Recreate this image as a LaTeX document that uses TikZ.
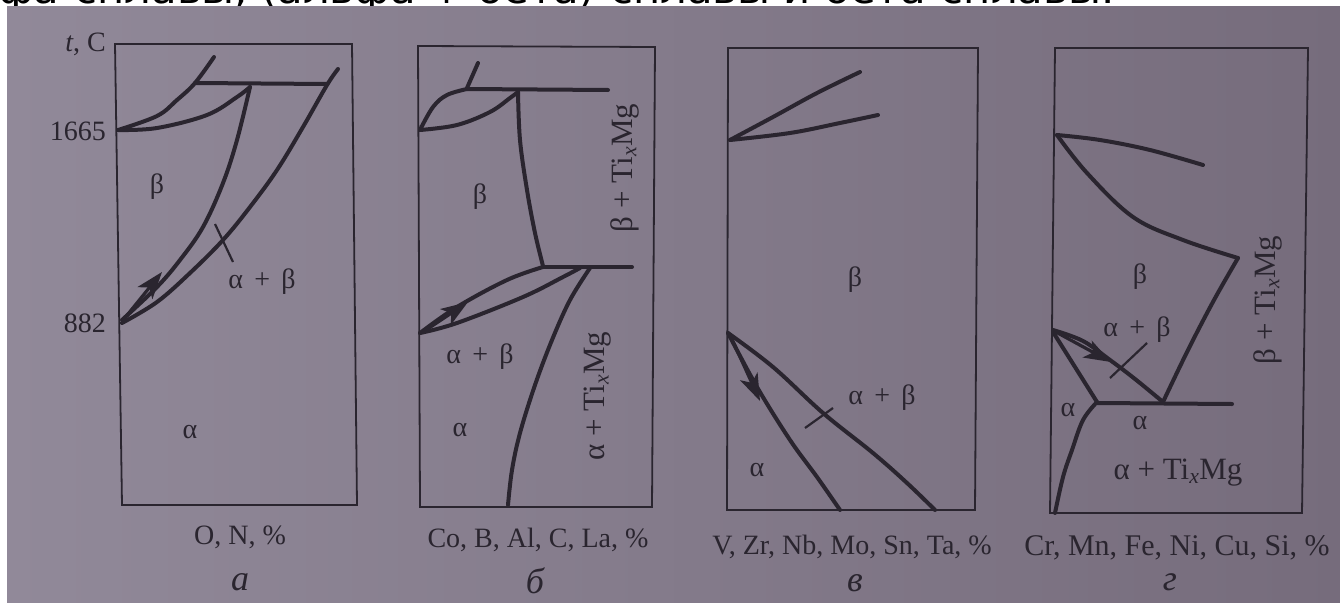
\documentclass[tikz,border=0pt]{standalone}
\usepackage{fontspec}
\setmainfont{Liberation Serif}
\newfontfamily\topfont{DejaVu Sans}
\usetikzlibrary{arrows.meta}
\definecolor{paperL}{RGB}{145,137,153}
\definecolor{paperR}{RGB}{118,108,124}
\definecolor{ink}{RGB}{42,37,47}
\newcommand\ab{α\hspace{0.4em}+\hspace{0.4em}β}
\newcommand\TiMg{Ti\textsubscript{\itshape x}Mg}
\begin{document}
\begin{tikzpicture}[x=1pt,y=-1pt,
  frame/.style={draw=ink,line width=1.8pt,line join=miter},
  curve/.style={draw=ink,line width=4pt,line cap=round,line join=round},
  tickmark/.style={draw=ink,line width=2.2pt},
  arr/.style={draw=ink,line width=3.2pt,-{Stealth[length=27pt,width=19pt,inset=7pt]}},
  lbl/.style={text=ink,font=\fontsize{28}{30}\selectfont,inner sep=0pt},
  biglbl/.style={text=ink,font=\fontsize{31}{33}\selectfont,inner sep=0pt},
  plbl/.style={text=ink,font=\fontsize{36}{38}\selectfont\itshape,inner sep=0pt},
]
\useasboundingbox (0,0) rectangle (1340,602);
\fill[white] (0,0) rectangle (1340,602);
\begin{scope}
\clip (0,0) rectangle (1340,602);
\node[anchor=base west,inner sep=0pt,font=\topfont\fontsize{40}{40}\selectfont] (toptext) at (-2,4)
  {\resizebox{1116pt}{\height}{фа-сплавы, (альфа + бета)-сплавы и бета-сплавы.}};
\end{scope}
\shade[left color=paperL,right color=paperR] (7,7) rectangle (1340,602);

% ---------- panel a ----------
\draw[frame] (115,44) -- (352,44) -- (357,505) -- (122,505) -- cycle;
\draw[curve] plot[smooth,tension=0.6] coordinates {(118,130) (157,116) (177,100) (195,83) (214,57)};
\draw[curve] plot[smooth,tension=0.6] coordinates {(118,130) (157,128) (207,115) (237,97) (250,87)};
\draw[curve] (195,83) -- (327,84);
\draw[curve] plot[smooth,tension=0.6] coordinates {(250,87) (237,140) (223,183) (203,227) (180,260) (157,287) (122,320)};
\draw[curve] plot[smooth,tension=0.6] coordinates {(338,69) (327,85) (303,127) (277,170) (250,207) (223,240) (190,273) (157,302) (122,323)};
\draw[tickmark] (215,224) -- (233,262);
\draw[arr] (124,319) -- (162,272);
\node[lbl,anchor=east] (tC) at (106,44) {{\itshape t}, C};
\node[lbl,anchor=east] (t1665) at (106,131) {1665};
\node[lbl,anchor=east] (t882) at (106,323) {882};
\node[lbl] (aB) at (157,187) {β};
\node[lbl] (aAB) at (262,282) {\ab};
\node[lbl] (aA) at (190,432) {α};
\node[lbl] (aX) at (240,537) {O, N, \%};
\node[plbl] (aL) at (240,582) {а};

% ---------- panel b ----------
\draw[frame] (418,46) -- (655,47) -- (652,507) -- (420,507) -- cycle;
\draw[curve] (467,88) -- (478,63);
\draw[curve] (467,89) -- (608,90);
\draw[curve] plot[smooth,tension=0.6] coordinates {(420,130) (433,107) (447,95) (467,89)};
\draw[curve] plot[smooth,tension=0.6] coordinates {(420,130) (457,125) (490,112) (510,98) (518,92)};
\draw[curve] plot[smooth,tension=0.6] coordinates {(518,92) (520,140) (527,190) (535,233) (543,266)};
\draw[curve] (543,267) -- (632,267);
\draw[curve] plot[smooth,tension=0.6] coordinates {(420,333) (457,307) (507,280) (543,267)};
\draw[curve] plot[smooth,tension=0.6] coordinates {(420,333) (457,323) (523,297) (563,277) (580,268)};
\draw[curve] plot[smooth,tension=0.6] coordinates {(590,268) (570,300) (552,340) (535,385) (520,433) (512,470) (508,505)};
\draw[arr] (423,332) -- (468,302);
\node[lbl] (bB) at (480,197) {β};
\node[biglbl,rotate=90] (bBT) at (625,168) {β + \TiMg};
\node[lbl] (bAB) at (480,357) {\ab};
\node[lbl] (bA) at (460,430) {α};
\node[biglbl,rotate=90] (bAT) at (598,396) {α + \TiMg};
\node[lbl] (bX) at (538,540) {Co, B, Al, C, La, \%};
\node[plbl] (bL) at (535,581) {б};

% ---------- panel v ----------
\draw[frame] (728,48) -- (978,48) -- (975,510) -- (727,510) -- cycle;
\draw[curve] plot[smooth,tension=0.6] coordinates {(730,140) (773,117) (817,93) (860,72)};
\draw[curve] plot[smooth,tension=0.6] coordinates {(730,140) (790,133) (840,123) (878,115)};
\draw[curve] plot[smooth,tension=0.6] coordinates {(728,333) (757,387) (790,440) (817,477) (840,510)};
\draw[curve] plot[smooth,tension=0.6] coordinates {(728,333) (773,367) (823,413) (873,453) (907,483) (935,510)};
\draw[arr] (731,337) -- (760,401);
\draw[tickmark] (805,428) -- (833,408);
\node[lbl] (vB) at (855,280) {β};
\node[lbl] (vAB) at (882,398) {\ab};
\node[lbl] (vA) at (757,470) {α};
\node[lbl] (vX) at (852,547) {V, Zr, Nb, Mo, Sn, Ta, \%};
\node[plbl] (vL) at (855,583) {в};

% ---------- panel g ----------
\draw[frame] (1055,48) -- (1308,48) -- (1302,513) -- (1050,513) -- cycle;
\draw[curve] plot[smooth,tension=0.6] coordinates {(1057,135) (1100,140) (1150,150) (1203,165)};
\draw[curve] plot[smooth,tension=0.6] coordinates {(1057,135) (1087,173) (1133,217) (1183,240) (1238,258)};
\draw[curve] plot[smooth,tension=0.6] coordinates {(1238,258) (1214,300) (1188,350) (1163,402)};
\draw[curve] (1097,403) -- (1232,404);
\draw[curve] (1053,332) -- (1097,402);
\draw[curve] plot[smooth,tension=0.6] coordinates {(1053,330) (1083,341) (1110,360) (1135,379) (1163,402)};
\draw[arr] (1054,331) -- (1111,362);
\draw[curve] plot[smooth,tension=0.6] coordinates {(1097,402) (1083,420) (1072,450) (1063,477) (1055,513)};
\draw[tickmark] (1110,378) -- (1147,343);
\node[lbl] (gB) at (1140,277) {β};
\node[lbl] (gAB) at (1137,330) {\ab};
\node[lbl] (gA1) at (1068,410) {α};
\node[lbl] (gA2) at (1140,423) {α};
\node[biglbl] (gAT) at (1178,473) {α + \TiMg};
\node[biglbl,rotate=90] (gBT) at (1268,300) {β + \TiMg};
\node[lbl,font=\fontsize{30}{32}\selectfont] (gX) at (1177,548) {Cr, Mn, Fe, Ni, Cu, Si, \%};
\node[plbl] (gL) at (1170,582) {г};
\end{tikzpicture}
\end{document}
